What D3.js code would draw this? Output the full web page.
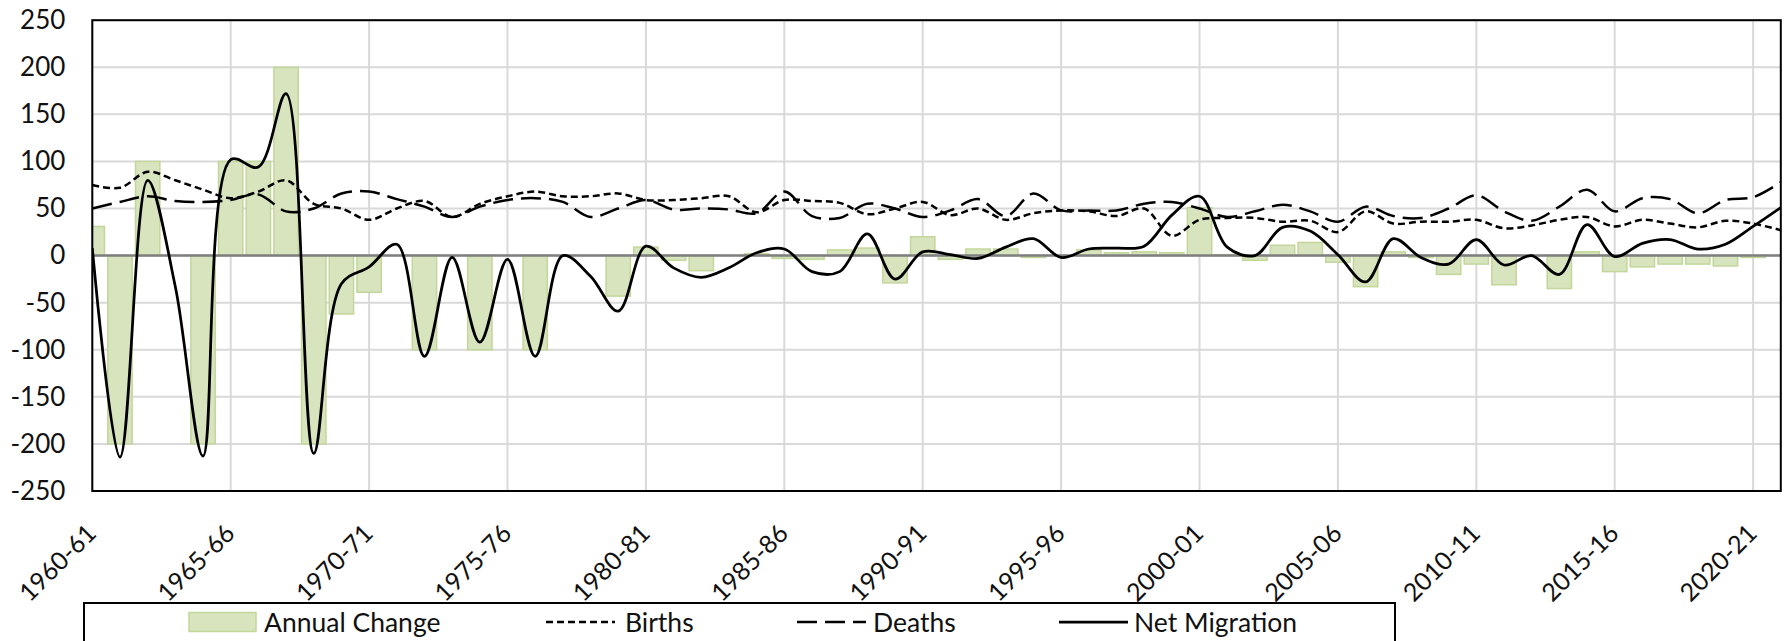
<!DOCTYPE html>
<html><head><meta charset="utf-8">
<script src="https://cdn.jsdelivr.net/npm/d3@7"></script>
<style>html,body{margin:0;padding:0;background:#fff;} svg{display:block;} text{font-family:Lato, "Open Sans", sans-serif;}</style>
</head><body>
<svg id="chart" width="1787" height="641"></svg>
<script>
const categories = ["1960-61","1961-62","1962-63","1963-64","1964-65","1965-66","1966-67","1967-68","1968-69","1969-70",
"1970-71","1971-72","1972-73","1973-74","1974-75","1975-76","1976-77","1977-78","1978-79","1979-80",
"1980-81","1981-82","1982-83","1983-84","1984-85","1985-86","1986-87","1987-88","1988-89","1989-90",
"1990-91","1991-92","1992-93","1993-94","1994-95","1995-96","1996-97","1997-98","1998-99","1999-00",
"2000-01","2001-02","2002-03","2003-04","2004-05","2005-06","2006-07","2007-08","2008-09","2009-10",
"2010-11","2011-12","2012-13","2013-14","2014-15","2015-16","2016-17","2017-18","2018-19","2019-20",
"2020-21","2021-22"];
const annualChange = [31,-200,100,0,-200,100,100,200,-200,-62,
-39,0,-100,0,-100,0,-100,0,0,-43,
9,-5,-16,0,2,-3,-4,6,8,-29,
20,-4,7,7,-2,0,6,3,4,3,
51,1,-5,11,14,-7,-33,4,-2,-20,
-9,-31,0,-35,4,-17,-12,-9,-9,-11,
-2,0];
const births = [75,72,89,80,70,61,68,80,55,50,
38,50,58,41,55,63,68,63,63,66,
59,59,61,63,46,59,58,56,44,50,
57,43,50,38,45,48,47,42,50,21,
38,40,40,36,37,25,47,34,36,36,
38,29,32,38,41,31,38,34,30,37,
34,27];
const deaths = [50,57,63,58,57,59,65,47,50,66,
68,60,52,41,52,59,61,57,41,50,
59,49,50,49,45,68,42,40,55,50,
41,48,60,42,66,48,48,48,55,57,
50,41,47,54,47,36,52,42,40,50,
64,47,37,52,70,47,61,60,45,59,
62,78];
const netMigration = [8,-214,80,-33,-213,102,94,172,-210,-30,
-12,12,-107,-2,-92,-4,-107,0,-22,-59,
10,-13,-23,-13,3,7,-17,-17,23,-25,
4,1,-3,9,18,-2,7,8,10,43,
63,9,0,30,26,1,-28,18,-2,-9,
17,-10,0,-20,33,-1,13,17,7,12,
31,51];
const yTicks = [-250,-200,-150,-100,-50,0,50,100,150,200,250];
const xTickLabels = categories.filter((d,i)=>i%5===0);
const seriesNames = ["Annual Change","Births","Deaths","Net Migration"];

const plot = {left:92.3, right:1780.8, top:20.2, bottom:491};
const barFill = "#d7e4bd", barStroke = "#c3d69b";
const svg = d3.select("#chart");

const x = d3.scalePoint().domain(categories).range([plot.left, plot.right]);
const y = d3.scaleLinear().domain([-250,250]).range([plot.bottom, plot.top]);

svg.append("defs").append("clipPath").attr("id","clip")
  .append("rect").attr("x",plot.left).attr("y",plot.top)
  .attr("width",plot.right-plot.left).attr("height",plot.bottom-plot.top);

// gridlines
const grid = svg.append("g");
grid.selectAll("line.h").data(yTicks).join("line")
  .attr("x1",plot.left).attr("x2",plot.right)
  .attr("y1",d=>y(d)).attr("y2",d=>y(d))
  .attr("stroke","#d9d9d9").attr("stroke-width",2);
grid.selectAll("line.v").data(xTickLabels).join("line")
  .attr("x1",d=>x(d)).attr("x2",d=>x(d))
  .attr("y1",plot.top).attr("y2",plot.bottom)
  .attr("stroke","#d9d9d9").attr("stroke-width",2);

// bars
const bw = x.step()*0.88;
svg.append("g").attr("clip-path","url(#clip)")
  .selectAll("rect").data(categories.map((c,i)=>({c,v:annualChange[i]})).filter(d=>d.v!==0)).join("rect")
  .attr("x",d=>x(d.c)-bw/2).attr("width",bw)
  .attr("y",d=>Math.min(y(d.v),y(0))).attr("height",d=>Math.abs(y(d.v)-y(0)))
  .attr("fill",barFill).attr("stroke",barStroke).attr("stroke-width",1.5);

// zero line
svg.append("line").attr("x1",plot.left).attr("x2",plot.right)
  .attr("y1",y(0)).attr("y2",y(0)).attr("stroke","#7f7f7f").attr("stroke-width",2.5);

// lines
const curve = d3.curveCatmullRom.alpha(0.5);
const lineGen = arr => d3.line().x((d,i)=>x(categories[i])).y(d=>y(d)).curve(curve)(arr);
const lg = svg.append("g").attr("clip-path","url(#clip)").attr("fill","none").attr("stroke","#000");
lg.append("path").attr("d",lineGen(births)).attr("stroke-width",2.5).attr("stroke-dasharray","7,4");
lg.append("path").attr("d",lineGen(deaths)).attr("stroke-width",2.5).attr("stroke-dasharray","20,8");
lg.append("path").attr("d",lineGen(netMigration)).attr("stroke-width",2.75);

// plot border
svg.append("rect").attr("x",plot.left).attr("y",plot.top)
  .attr("width",plot.right-plot.left).attr("height",plot.bottom-plot.top)
  .attr("fill","none").attr("stroke","#000").attr("stroke-width",2);

// y axis labels (ASCII hyphen-minus as in the original)
const yAxis = svg.append("g").attr("transform",`translate(${plot.left},0)`)
  .call(d3.axisLeft(y).tickValues(yTicks).tickSize(0).tickPadding(27).tickFormat(d=>String(d)));
yAxis.select(".domain").remove();
yAxis.selectAll("text").attr("font-size",26).attr("font-family","Lato").attr("fill","#111");

// x axis labels
const xAxis = svg.append("g").attr("transform",`translate(0,${plot.bottom})`)
  .call(d3.axisBottom(x).tickValues(xTickLabels).tickSize(0));
xAxis.select(".domain").remove();
xAxis.selectAll("text").attr("x",0).attr("y",0).attr("dy",0)
  .attr("transform","translate(5,44) rotate(-45)")
  .attr("text-anchor","end").attr("font-size",25).attr("font-family","Lato").attr("fill","#111");

// legend
const leg = svg.append("g");
leg.append("rect").attr("x",84).attr("y",603).attr("width",1311).attr("height",70)
  .attr("fill","none").attr("stroke","#000").attr("stroke-width",2);
const ly = 622;
leg.append("rect").attr("x",189).attr("y",ly-9.5).attr("width",67).attr("height",19)
  .attr("fill",barFill).attr("stroke",barStroke).attr("stroke-width",1.5);
leg.append("line").attr("x1",546).attr("x2",615).attr("y1",ly).attr("y2",ly)
  .attr("stroke","#000").attr("stroke-width",2.5).attr("stroke-dasharray","7,4");
leg.append("line").attr("x1",797).attr("x2",866).attr("y1",ly).attr("y2",ly)
  .attr("stroke","#000").attr("stroke-width",2.5).attr("stroke-dasharray","20,8");
leg.append("line").attr("x1",1059).attr("x2",1128).attr("y1",ly).attr("y2",ly)
  .attr("stroke","#000").attr("stroke-width",2.75);
const lx = [264,625,873,1134];
leg.selectAll("text").data(seriesNames).join("text")
  .attr("x",(d,i)=>lx[i]).attr("y",632).attr("font-size",26.5).attr("fill","#111").text(d=>d);
</script>
</body></html>
